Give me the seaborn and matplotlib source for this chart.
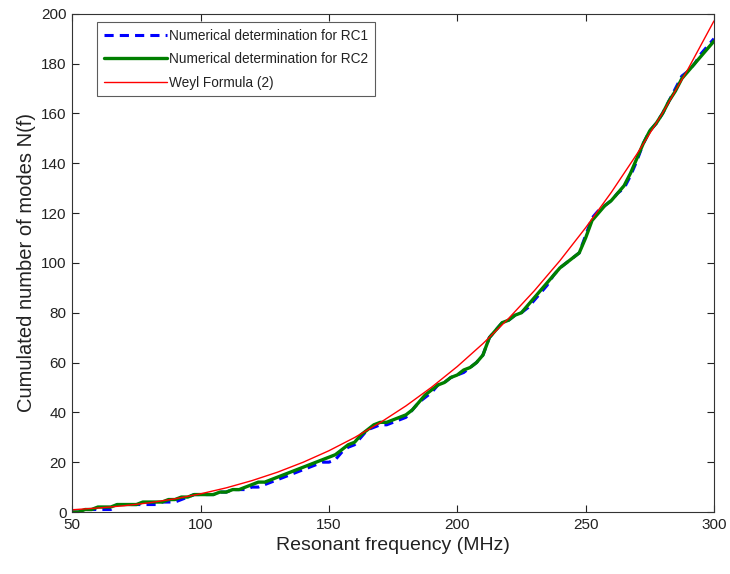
import matplotlib
matplotlib.use("Agg")
import matplotlib.pyplot as plt
import seaborn as sns
import pandas as pd

# frequency grid (MHz), 2.5 MHz spacing
freq = [50 + 2.5 * i for i in range(101)]

rc2 = [0, 0, 1, 1, 2, 2, 2, 3, 3, 3, 3, 4, 4, 4, 4, 5, 5, 6, 6, 7,
       7, 7, 7, 8, 8, 9, 9, 10, 11, 12, 12, 13, 14, 15, 16, 17, 18, 19, 20, 21,
       22, 23, 25, 27, 28, 31, 33, 35, 36, 36, 37, 38, 39, 41, 44, 47, 49, 51, 52, 54,
       55, 57, 58, 60, 63, 70, 73, 76, 77, 79, 80, 83, 86, 89, 92, 95, 98, 100, 102, 104,
       110, 117, 120, 123, 125, 128, 131, 136, 142, 148, 153, 156, 160, 165, 169, 174, 177, 180, 183, 186,
       189]

rc1 = [0, 0, 1, 1, 1, 1, 1, 3, 3, 3, 3, 3, 3, 3, 4, 4, 4, 5, 6, 7,
       7, 7, 7, 8, 8, 9, 9, 9, 10, 10, 11, 12, 13, 14, 15, 16, 17, 18, 19, 20,
       20, 21, 24, 26, 27, 30, 33, 34, 35, 35, 36, 37, 38, 41, 44, 46, 48, 51, 52, 54,
       55, 56, 58, 60, 63, 70, 73, 76, 77, 79, 80, 82, 85, 88, 91, 95, 98, 100, 102, 104,
       111, 118, 121, 123, 125, 128, 130, 135, 141, 148, 153, 156, 160, 165, 170, 175, 177, 180, 184, 187,
       190]

weyl_f = [50, 60, 70, 80, 90, 100, 110, 120, 130, 140, 150, 160, 170, 180,
          190, 200, 210, 220, 230, 240, 250, 260, 270, 280, 290, 300]
weyl_n = [0.9, 1.6, 2.5, 3.7, 5.3, 7.3, 9.7, 12.6, 16.0, 20.0, 24.6, 29.9,
          35.9, 42.6, 50.1, 58.4, 67.6, 77.7, 88.8, 100.9, 114.1, 128.3,
          143.7, 160.2, 178.0, 197.1]

labels = ["Numerical determination for RC1", "Numerical determination for RC2",
          "Weyl Formula (2)"]

sns.set_style("ticks")
plt.rcParams['font.family'] = ['Liberation Sans', 'DejaVu Sans']

fig = plt.figure(figsize=(7.3, 5.74), dpi=100)
ax = fig.add_axes([0.099, 0.108, 0.879, 0.868])

df1 = pd.DataFrame({"f": freq, "n": rc1})
df2 = pd.DataFrame({"f": freq, "n": rc2})
dfw = pd.DataFrame({"f": weyl_f, "n": weyl_n})

sns.lineplot(data=df1, x="f", y="n", ax=ax, color="#0000ff", lw=2.2,
             linestyle=(0, (3, 2)), label=labels[0])
sns.lineplot(data=df2, x="f", y="n", ax=ax, color="#007f00", lw=2.4,
             label=labels[1])
sns.lineplot(data=dfw, x="f", y="n", ax=ax, color="#ff0000", lw=1.0,
             label=labels[2])

ax.set_xlim(50, 300)
ax.set_ylim(0, 200)
ax.set_xticks(range(50, 301, 50))
ax.set_yticks(range(0, 201, 20))
ax.tick_params(direction="in", top=True, right=True, length=5, width=0.8,
               labelsize=11, colors="#222222", pad=4)
for s in ax.spines.values():
    s.set_visible(True)
    s.set_linewidth(0.8)
    s.set_color("#333333")

ax.set_xlabel("Resonant frequency (MHz)", fontsize=14, color="#222222")
ax.set_ylabel("Cumulated number of modes N(f)", fontsize=14.5, color="#222222")

leg = ax.legend(loc="upper left", fontsize=9.8, frameon=True, fancybox=False,
                edgecolor="#333333", handlelength=4.6, borderpad=0.5,
                labelspacing=0.7, handletextpad=0.2, borderaxespad=0,
                bbox_to_anchor=(0.039, 0.984))
leg.get_frame().set_linewidth(0.8)
for t in leg.get_texts():
    t.set_color("#222222")

fig.savefig("out.png", dpi=100)
